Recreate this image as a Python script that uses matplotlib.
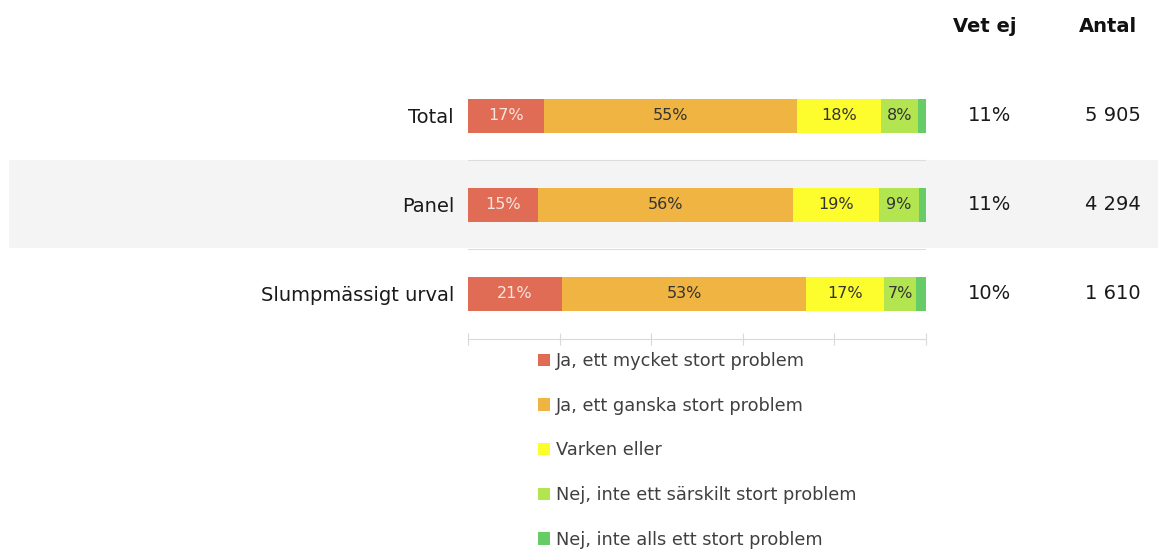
import numpy as np
import matplotlib.pyplot as plt
from matplotlib.patches import Rectangle, Patch

plt.rcParams['font.family'] = ['DejaVu Sans']

# data
groups = ['Total', 'Panel', 'Slumpmässigt urval']
answers = ['Ja, ett mycket stort problem', 'Ja, ett ganska stort problem',
           'Varken eller', 'Nej, inte ett särskilt stort problem',
           'Nej, inte alls ett stort problem']
very_big = [16.6, 15.3, 20.6]
fairly_big = [55.2, 55.7, 53.1]
neither = [18.3, 18.8, 17.2]
not_very = [8.1, 8.6, 7.0]
not_at_all = [1.8, 1.6, 2.1]
dont_know = ['11%', '11%', '10%']
counts = ['5 905', '4 294', '1 610']

colors = ['#E06C55', '#EFB441', '#FDFD2E', '#B3E550', '#66CC66']
label_colors = ['#F7E6E0', '#333333', '#333333', '#333333', '#333333']

W, H = 1158, 550
fig = plt.figure(figsize=(W / 100, H / 100), dpi=100)
ax = fig.add_axes([468 / W, 1 - 339 / H, 458 / W, (339 - 71.5) / H])
ax.set_facecolor('none')

# grey band behind the middle row
fig.patches.append(Rectangle((9 / W, 1 - 248 / H), (W - 9) / W, 88 / H,
                             transform=fig.transFigure, facecolor='#F4F4F4',
                             edgecolor='none', zorder=-5))

series = [very_big, fairly_big, neither, not_very, not_at_all]
y = np.arange(len(groups))
left = np.zeros(len(groups))
for vals, col, tcol in zip(series, colors, label_colors):
    vals = np.array(vals)
    ax.barh(y, vals, left=left, height=0.39, color=col, edgecolor='none', zorder=3)
    for yi, (l, v) in enumerate(zip(left, vals)):
        if v >= 5:
            ax.text(l + v / 2, yi, f'{round(v):.0f}%', ha='center', va='center',
                    fontsize=11.5, color=tcol, zorder=4)
    left += vals

ax.set_xlim(0, 100)
ax.set_ylim(2.506, -0.5)
for yl in [0.5, 1.5]:
    ax.axhline(yl, color='#DDDDDD', lw=0.8, zorder=2)

ax.set_yticks(y)
ax.set_yticklabels(groups, fontsize=14, color='#1A1A1A')
ax.tick_params(axis='y', length=0, pad=10)
ax.set_xticks([0, 20, 40, 60, 80, 100])
ax.set_xticklabels([])
ax.tick_params(axis='x', direction='inout', length=8, color='#D9D9D9', width=0.8)
for s in ['top', 'right', 'left']:
    ax.spines[s].set_visible(False)
ax.spines['bottom'].set_color('#D9D9D9')
ax.spines['bottom'].set_linewidth(0.8)

# side columns
fig.text(985 / W, 1 - 27 / H, 'Vet ej', ha='center', va='center',
         fontsize=14, fontweight='bold', color='#111111')
fig.text(1108 / W, 1 - 27 / H, 'Antal', ha='center', va='center',
         fontsize=14, fontweight='bold', color='#111111')
for yi in y:
    yy = ax.transData.transform((0, yi))[1] / (H)
    fig.text(990 / W, yy, dont_know[yi], ha='center', va='center',
             fontsize=14, color='#1A1A1A')
    fig.text(1141 / W, yy, counts[yi], ha='right', va='center',
             fontsize=14, color='#1A1A1A')

handles = [Patch(facecolor=c, edgecolor='none') for c in colors]
fig.legend(handles, answers, loc='upper left', bbox_to_anchor=(538 / W, 1 - 352 / H),
           frameon=False, fontsize=12.8, labelcolor='#404040', handlelength=0.7,
           handleheight=0.7, handletextpad=0.3, labelspacing=1.5,
           borderpad=0, borderaxespad=0)

fig.savefig('out.png', dpi=100)
